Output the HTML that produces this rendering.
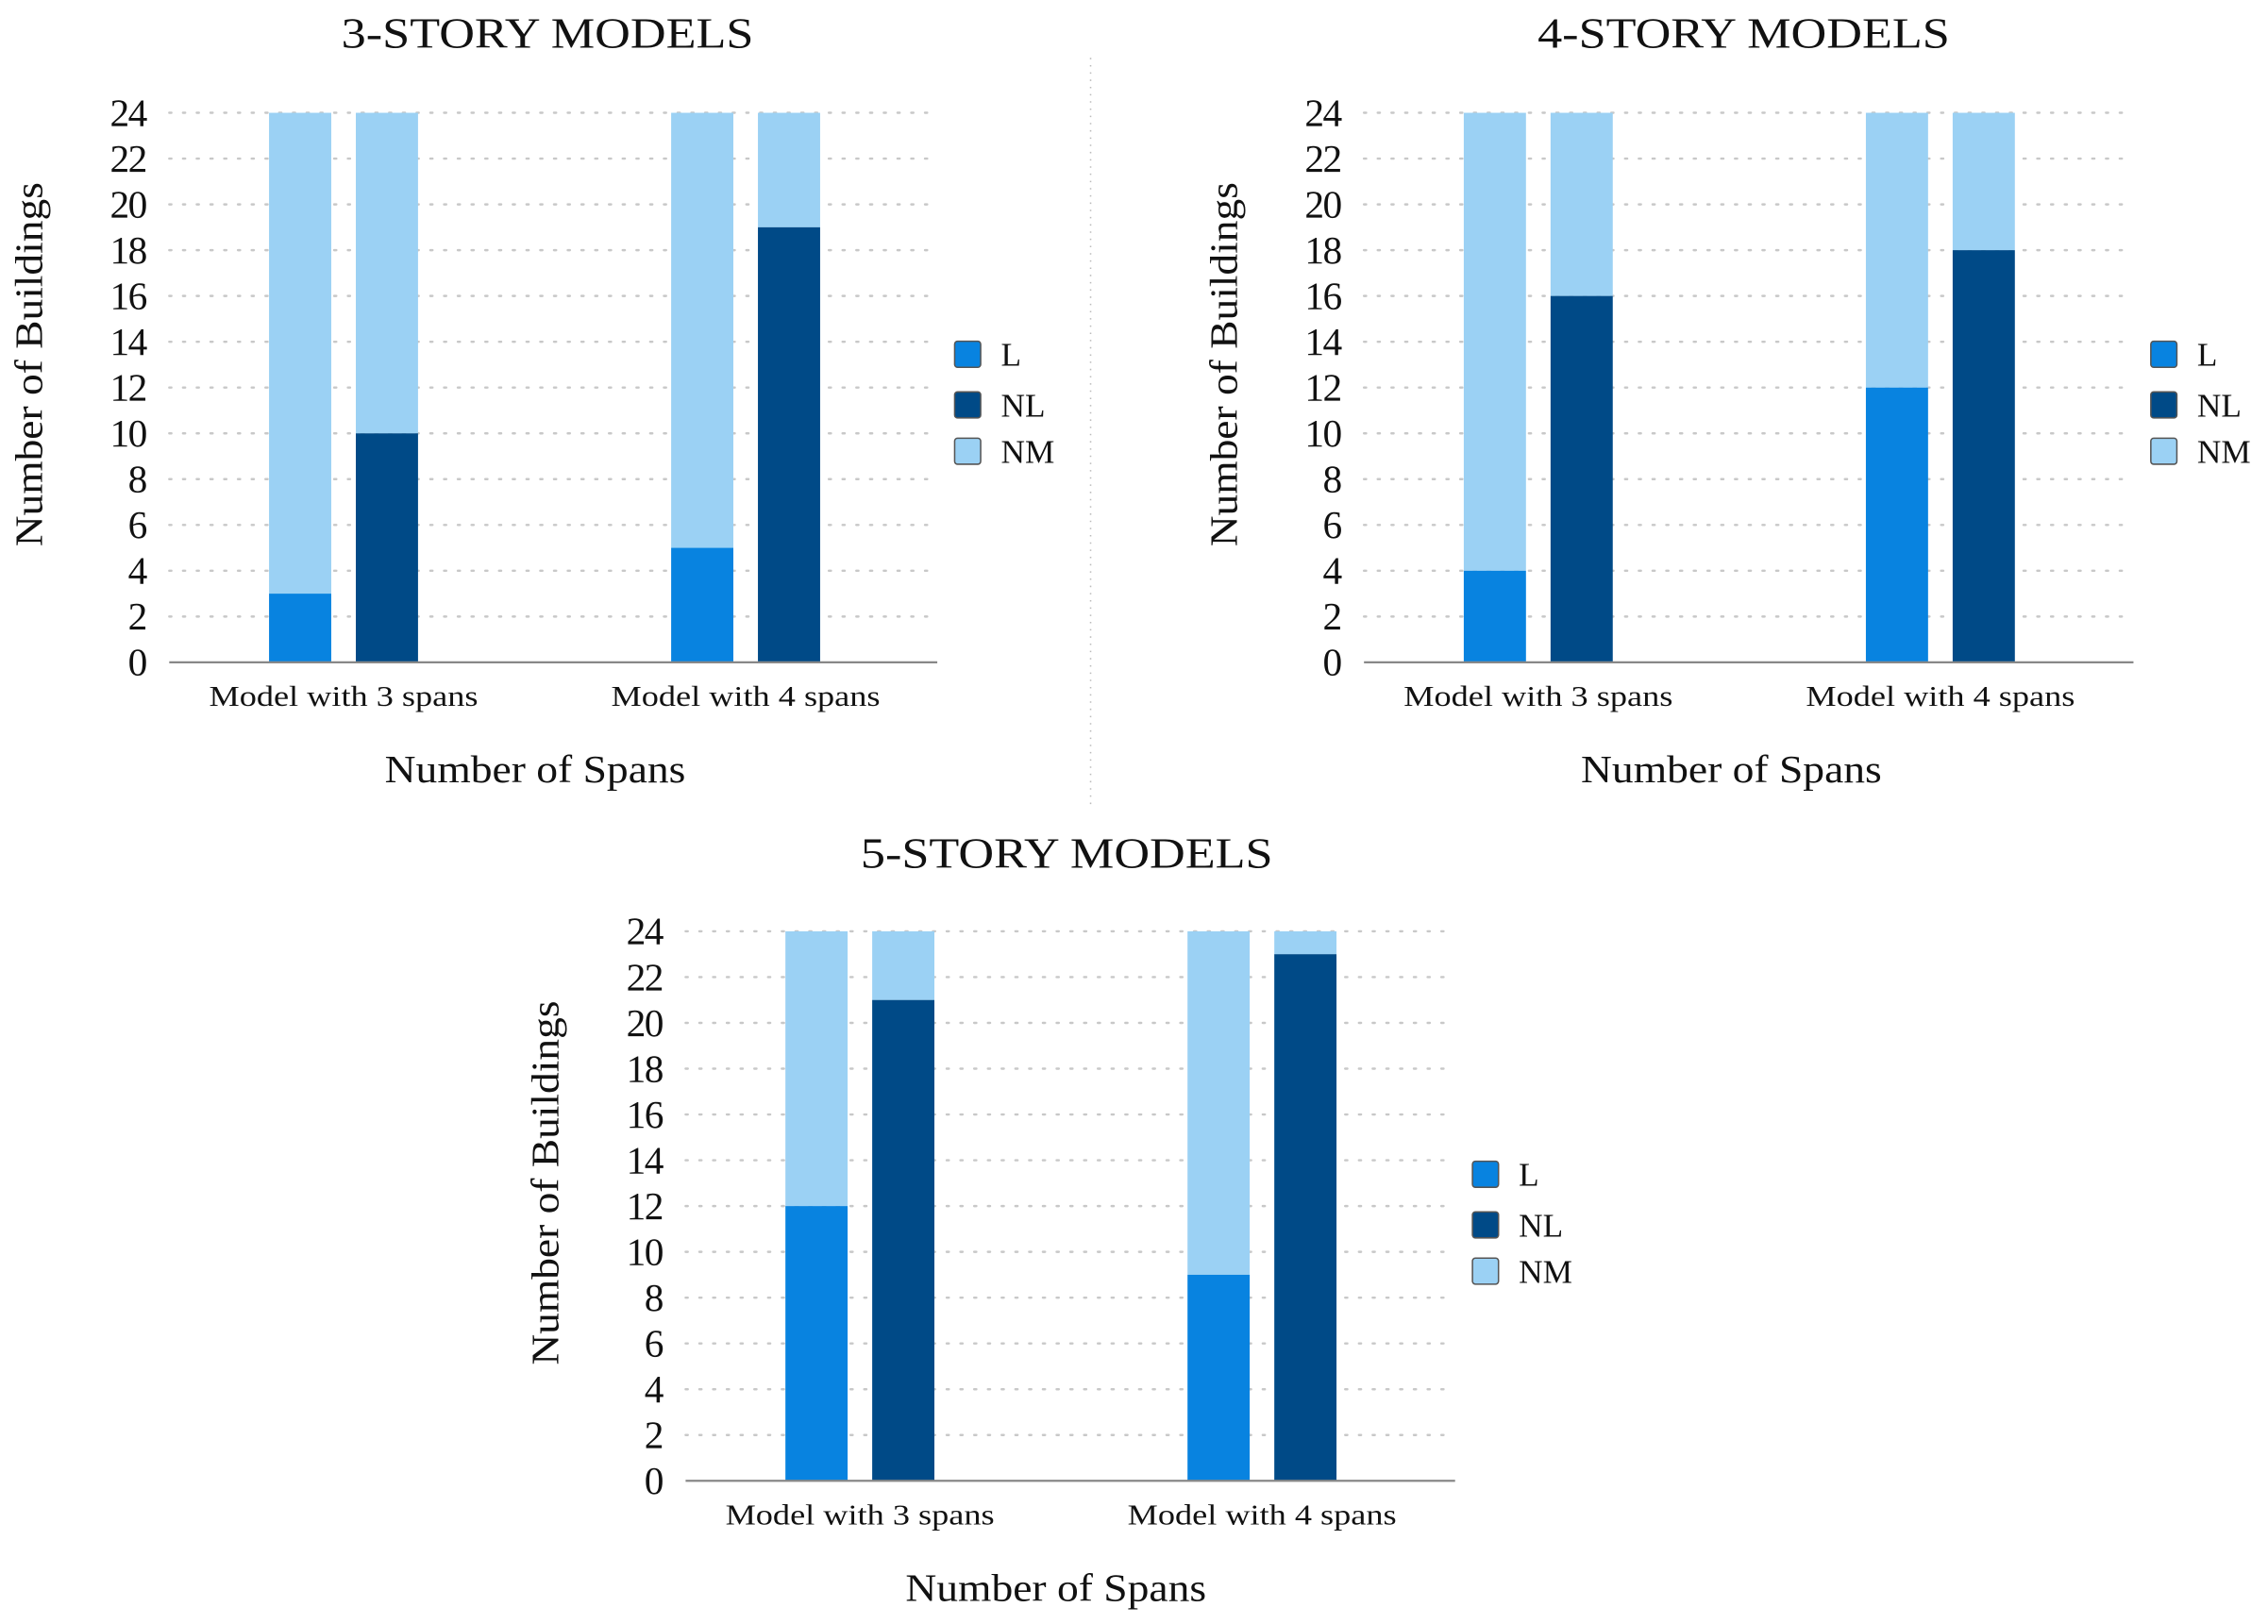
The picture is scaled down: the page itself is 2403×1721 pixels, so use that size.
<!DOCTYPE html>
<html><head><meta charset="utf-8"><style>
html,body{margin:0;padding:0;background:#fff;}
svg{display:block;}
text{font-family:"Liberation Serif",serif;fill:#111;}
</style></head>
<body>
<svg id="root" width="2403" height="1721" viewBox="0 0 1568 1123" xmlns="http://www.w3.org/2000/svg">
<line x1="754" y1="40" x2="754" y2="560" stroke="#bbb" stroke-width="1" stroke-dasharray="1,4"/>
</svg>
<script>
const categories = ["Model with 3 spans", "Model with 4 spans"];
const yTicks = [0,2,4,6,8,10,12,14,16,18,20,22,24];
const seriesNames = ["L", "NL", "NM"];
const L3 = [3, 5];
const NL3 = [10, 19];
const L4 = [4, 12];
const NL4 = [16, 18];
const L5 = [12, 9];
const NL5 = [21, 23];
const TOTAL = 24;

const COL = {L:"#0883e0", NL:"#004a87", NM:"#9bd1f4"};
const svg = document.getElementById('root');
const NS = "http://www.w3.org/2000/svg";
function mk(tag, attrs, parent){
  const e = document.createElementNS(NS, tag);
  for (const k in attrs) e.setAttribute(k, attrs[k]);
  (parent||svg).appendChild(e);
  return e;
}
function txt(s, attrs, parent){ const e = mk('text', attrs, parent); e.textContent = s; return e; }

function chart(cfg){
  const g = mk('g', {});
  
  
  const y = v => cfg.y0 - (cfg.y0 - cfg.y24) * v / TOTAL;
  const x0 = cfg.ax0, x1 = cfg.ax1;
  const step = 278;
  const bw = 43, pair = 60;
  yTicks.forEach(t => {
    if (t > 0) {
      const gl = mk('line', {x1:x0, x2:x1, y1:y(t), y2:y(t), stroke:"#c8c8c8", "stroke-width":1.6, "stroke-dasharray":"1.5,8", "stroke-linecap":"round"}, g);
      
      
    }
    const tl = txt(String(t), {x:x0 - 16, y:y(t) + 9, "text-anchor":"end", "font-size":27, "letter-spacing":"-1"}, g);
    
    
  });
  categories.forEach((c, i) => {
    const xa = x0 + 69 + step * i, xb = xa + pair;
    const lv = cfg.L[i], nv = cfg.NL[i];
    let r;
    r = mk('rect', {x:xa, y:y(TOTAL), width:bw, height:y(lv) - y(TOTAL), fill:COL.NM}, g);
    
    
    r = mk('rect', {x:xa, y:y(lv), width:bw, height:y(0) - y(lv), fill:COL.L}, g);
    
    
    r = mk('rect', {x:xb, y:y(TOTAL), width:bw, height:y(nv) - y(TOTAL), fill:COL.NM}, g);
    
    
    r = mk('rect', {x:xb, y:y(nv), width:bw, height:y(0) - y(nv), fill:COL.NL}, g);
    
    
    const cl = txt(c, {x:xa + (pair + bw)/2 - 186/2, y:y(0) + 30, "font-size":20, textLength:186, lengthAdjust:"spacingAndGlyphs"}, g);
    
    
  });
  const ax = mk('line', {x1:x0, x2:x1, y1:y(0), y2:y(0), stroke:"#888", "stroke-width":1.5}, g);
  
  
  const ti = txt(cfg.title, {x:cfg.tx - 142, y:cfg.ty, "font-size":30, textLength:285, lengthAdjust:"spacingAndGlyphs"}, g);
  
  
  const xt = txt("Number of Spans", {x:cfg.xtx - 104, y:y(0) + 83, "font-size":27, textLength:208, lengthAdjust:"spacingAndGlyphs"}, g);
  
  
  const ymid = (y(0) + y(TOTAL)) / 2 - 16;
  const yt = txt("Number  of  Buildings", {x:-126, y:0, "font-size":27, textLength:252, lengthAdjust:"spacingAndGlyphs", transform:`translate(${x0 - 88},${ymid}) rotate(-90)`}, g);
  
  
  const lys = [cfg.ly, cfg.ly + 35, cfg.ly + 67];
  seriesNames.forEach((s, k) => {
    const lg = mk('g', {}, g);
    
    
    mk('rect', {x:cfg.lx, y:lys[k] - 9, width:18, height:18, fill:COL[s], stroke:"#555", "stroke-width":1, rx:2}, lg);
    txt(s, {x:cfg.lx + 32, y:lys[k] + 8, "font-size":23}, lg);
  });
}
chart({name:"chart-3-story", L:L3, NL:NL3, y0:458, y24:78, ax0:117, ax1:648, title:"3-STORY MODELS", tx:378, ty:33, xtx:370, lx:660, ly:245});
chart({name:"chart-4-story", L:L4, NL:NL4, y0:458, y24:78, ax0:943, ax1:1475, title:"4-STORY MODELS", tx:1205, ty:33, xtx:1197, lx:1487, ly:245});
chart({name:"chart-5-story", L:L5, NL:NL5, y0:1024, y24:644, ax0:474, ax1:1006, title:"5-STORY MODELS", tx:737, ty:600, xtx:730, lx:1018, ly:812});
</script>
</body></html>
